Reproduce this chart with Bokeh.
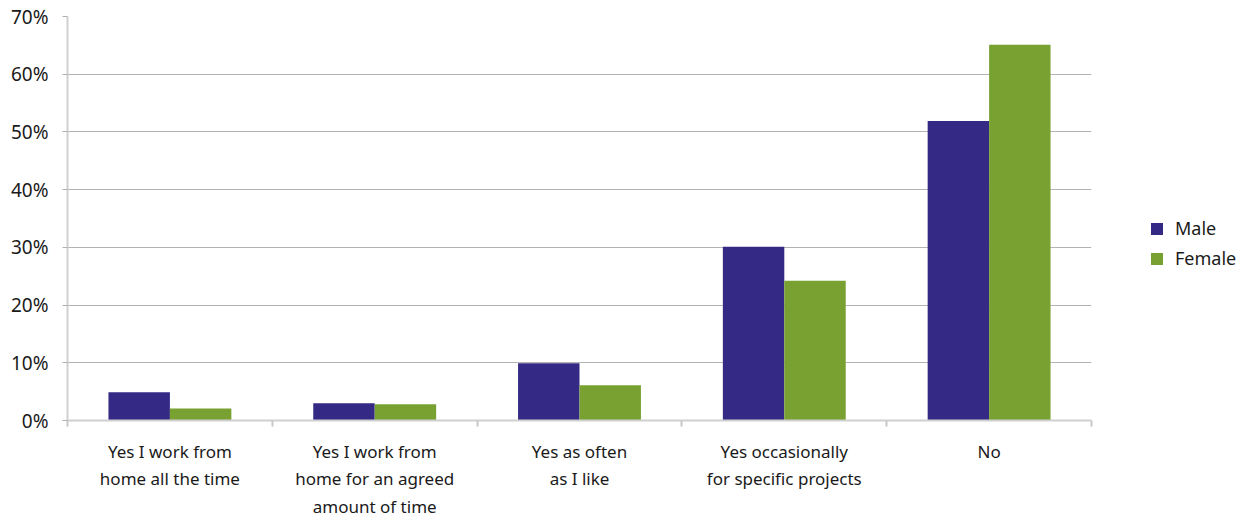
from bokeh.plotting import figure
from bokeh.models import Range1d, FixedTicker, Legend, LegendItem, ColumnDataSource
from bokeh.embed import file_html
from bokeh.resources import INLINE

categories = [
    "Yes I work from\nhome all the time",
    "Yes I work from\nhome for an agreed\namount of time",
    "Yes as often\nas I like",
    "Yes occasionally\nfor specific projects",
    "No",
]
male = [4.9, 3.0, 9.9, 30.1, 51.9]
female = [2.1, 2.8, 6.1, 24.2, 65.1]
y_ticks = [0, 10, 20, 30, 40, 50, 60, 70]
y_labels = {t: f"{t}%" for t in y_ticks}

MALE_C = "#342985"
FEMALE_C = "#78a132"
FONT = "Noto Sans"

n = len(categories)
centers = [i + 0.5 for i in range(n)]
bw = 0.3

src_m = ColumnDataSource(dict(x=[c - bw / 2 for c in centers], top=male))
src_f = ColumnDataSource(dict(x=[c + bw / 2 for c in centers], top=female))

p = figure(frame_width=1024, frame_height=404, output_backend="svg", toolbar_location=None,
           x_range=Range1d(0, n), y_range=Range1d(0, 70),
           min_border_left=67, min_border_right=10, min_border_top=16, min_border_bottom=96)
p.outline_line_color = None
p.background_fill_color = "white"

r_m = p.vbar(x="x", top="top", width=bw, source=src_m, color=MALE_C, line_color=None)
r_f = p.vbar(x="x", top="top", width=bw, source=src_f, color=FEMALE_C, line_color=None)

# x axis
xa = p.xaxis[0]
xa.ticker = FixedTicker(ticks=centers, minor_ticks=list(range(n + 1)))
xa.major_label_overrides = {c: lab for c, lab in zip(centers, categories)}
xa.major_tick_line_color = None
xa.minor_tick_in = 0
xa.minor_tick_out = 6
xa.minor_tick_line_color = "#c8c8c8"
xa.minor_tick_line_width = 2
xa.axis_line_color = "#d0d0d0"
xa.axis_line_width = 2
xa.major_label_text_font = FONT
xa.major_label_text_font_size = "17px"
xa.major_label_text_color = "#1a1a1a"
xa.major_label_standoff = 13
p.xgrid.grid_line_color = None

# y axis
ya = p.yaxis[0]
ya.ticker = FixedTicker(ticks=y_ticks)
ya.major_label_overrides = y_labels
ya.major_tick_in = 0
ya.major_tick_out = 5
ya.major_tick_line_color = "#b0b0b0"
ya.minor_tick_line_color = None
ya.axis_line_color = "#d0d0d0"
ya.axis_line_width = 2
ya.major_label_text_font = FONT
ya.major_label_text_font_size = "19px"
ya.major_label_text_color = "#1a1a1a"
ya.major_label_standoff = 14
p.ygrid.grid_line_color = "#b3b3b3"
p.ygrid.grid_line_width = 1

legend = Legend(items=[LegendItem(label="Male", renderers=[r_m]),
                       LegendItem(label="Female", renderers=[r_f])],
                location=(58, 150), orientation="vertical")
legend.glyph_width = 15
legend.glyph_height = 15
legend.label_height = 20
legend.spacing = 6
legend.padding = 0
legend.margin = 0
legend.border_line_color = None
legend.background_fill_alpha = 0
legend.label_text_font = FONT
legend.label_text_font_size = "18px"
legend.label_text_color = "#1a1a1a"
legend.label_standoff = 11
p.add_layout(legend, "right")

open("out.html", "w").write(file_html(p, INLINE))
